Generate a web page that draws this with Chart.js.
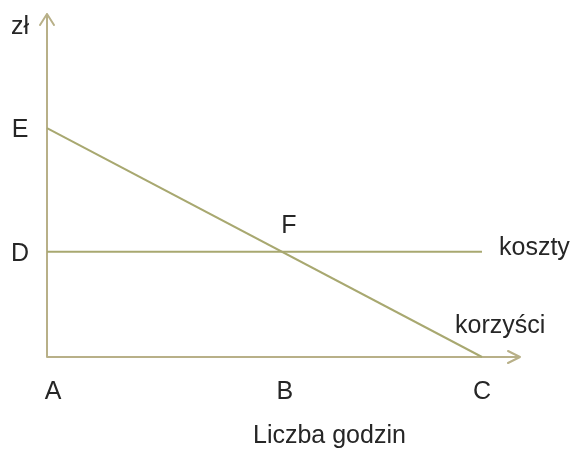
<!DOCTYPE html>
<html>
<head>
<meta charset="utf-8">
<script src="https://cdn.jsdelivr.net/npm/chart.js@4"></script>
<style>
html,body{margin:0;padding:0;background:#fff;}
#c{display:block;}
</style>
</head>
<body>
<canvas id="c" width="574" height="451"></canvas>
<script>
// Data
const hours = [0, 10];            // A .. C
const benefits = [10, 0];         // korzyści: E -> C
const costs = [4.6, 4.6];         // koszty: D level
const xPointLabels = ['A', 'B', 'C'];
const yPointLabels = ['D', 'E'];
const yAxisTitle = 'zł';
const xAxisTitle = 'Liczba godzin';
const costLabel = 'koszty';
const benefitLabel = 'korzyści';
const crossLabel = 'F';

// intersection of the two lines (point F / B)
const slope = (benefits[1] - benefits[0]) / (hours[1] - hours[0]);
const crossX = hours[0] + (costs[0] - benefits[0]) / slope;

const LINE = 'rgb(168,168,112)';
const AXIS = 'rgb(184,176,136)';
const TEXT = '#262626';
const FONT = '25px "Liberation Sans", Arial, sans-serif';

const drawPlugin = {
  id: 'decor',
  beforeDatasetsDraw(chart) {
    const ctx = chart.ctx, xs = chart.scales.x, ys = chart.scales.y;
    const x0 = xs.getPixelForValue(0), y0 = ys.getPixelForValue(0);
    const xTip = xs.getPixelForValue(xs.max), yTip = ys.getPixelForValue(ys.max);
    ctx.save();
    ctx.strokeStyle = AXIS; ctx.lineWidth = 2; ctx.lineCap = 'round'; ctx.lineJoin = 'round';
    ctx.beginPath();
    ctx.moveTo(x0, y0); ctx.lineTo(x0, yTip);
    ctx.moveTo(x0 - 7, yTip + 11); ctx.lineTo(x0, yTip); ctx.lineTo(x0 + 7, yTip + 11);
    ctx.moveTo(x0, y0); ctx.lineTo(xTip, y0);
    ctx.moveTo(xTip - 12, y0 - 6); ctx.lineTo(xTip, y0); ctx.lineTo(xTip - 12, y0 + 6);
    ctx.stroke();
    ctx.restore();
  },
  afterDraw(chart) {
    const ctx = chart.ctx, xs = chart.scales.x, ys = chart.scales.y;
    const x0 = xs.getPixelForValue(0), y0 = ys.getPixelForValue(0);
    ctx.save();
    ctx.fillStyle = TEXT; ctx.font = FONT; ctx.textBaseline = 'alphabetic';
    // x point labels
    ctx.textAlign = 'center';
    const xVals = [hours[0], crossX, hours[1]];
    const xOff = [6, 3, 0];
    xVals.forEach((v, i) => ctx.fillText(xPointLabels[i], xs.getPixelForValue(v) + xOff[i], y0 + 42));
    // y point labels
    const yVals = [costs[0], benefits[0]];
    yVals.forEach((v, i) => ctx.fillText(yPointLabels[i], x0 - 27, ys.getPixelForValue(v) + 9));
    // axis titles
    ctx.textAlign = 'left';
    ctx.fillText(yAxisTitle, x0 - 36, ys.getPixelForValue(ys.max) + 20);
    ctx.fillText(xAxisTitle, 253, y0 + 86);
    // F
    ctx.textAlign = 'center';
    ctx.fillText(crossLabel, xs.getPixelForValue(crossX) + 7, ys.getPixelForValue(costs[0]) - 19);
    // series labels
    ctx.textAlign = 'left';
    ctx.fillText(costLabel, xs.getPixelForValue(hours[1]) + 17, ys.getPixelForValue(costs[1]) + 3);
    ctx.fillText(benefitLabel, xs.getPixelForValue(hours[1]) - 27, ys.getPixelForValue(benefits[1]) - 24);
    ctx.restore();
  }
};

new Chart(document.getElementById('c'), {
  type: 'scatter',
  data: {
    datasets: [
      { label: benefitLabel, data: hours.map((h, i) => ({x: h, y: benefits[i]})), showLine: true,
        borderColor: LINE, borderWidth: 2, pointRadius: 0, fill: false },
      { label: costLabel, data: hours.map((h, i) => ({x: h, y: costs[i]})), showLine: true,
        borderColor: LINE, borderWidth: 2, pointRadius: 0, fill: false }
    ]
  },
  options: {
    responsive: false,
    animation: false,
    events: [],
    clip: false,
    layout: { padding: { left: 47, right: 54, top: 14, bottom: 94 } },
    plugins: { legend: { display: false }, tooltip: { enabled: false } },
    scales: {
      x: { type: 'linear', min: 0, max: 10.874, display: false },
      y: { type: 'linear', min: 0, max: 14.98, display: false }
    }
  },
  plugins: [drawPlugin]
});
</script>
</body>
</html>
